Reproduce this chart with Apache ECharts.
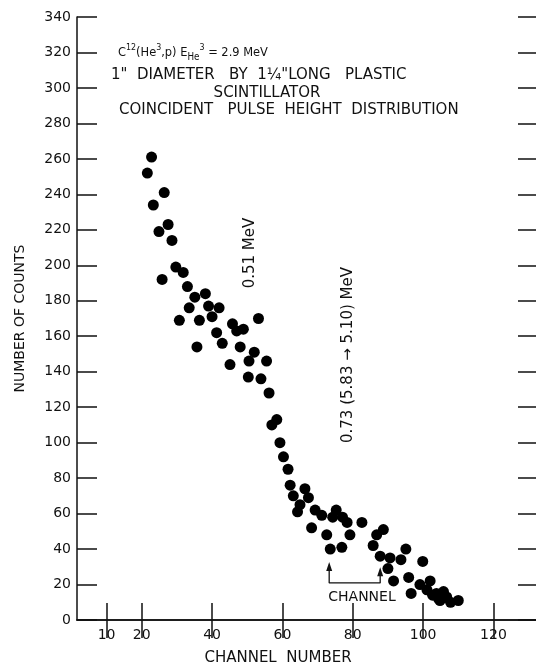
<!DOCTYPE html>
<html><head><meta charset="utf-8">
<script src="https://cdn.jsdelivr.net/npm/echarts@6/dist/echarts.min.js"></script>
<style>html,body{margin:0;padding:0;background:#fff}#c{width:536px;height:671px}</style>
</head><body><div id="c"></div>
<script>
// ---- data ----
const channels = [22.8,21.6,26.4,23.3,27.5,24.9,28.6,29.7,31.8,25.8,
  33.0,38.1,35.1,39.0,42.0,33.5,40.0,30.7,36.4,45.8,
  53.2,41.3,47.0,48.9,35.7,42.9,48.0,52.0,45.1,50.5,
  55.5,50.3,53.9,56.2,58.4,57.0,59.3,60.3,61.6,62.2,
  63.1,66.4,67.4,65.0,64.3,69.3,71.2,74.3,75.3,77.1,
  78.4,82.6,68.3,72.6,79.2,73.6,76.9,86.8,88.7,85.8,
  87.8,90.6,93.7,95.1,90.0,91.6,95.9,99.9,96.6,99.1,
  102.0,101.1,103.8,105.8,106.7,104.8,107.8,110.0,102.7,104.4];
const counts = [261,252,241,234,223,219,214,199,196,192,
  188,184,182,177,176,176,171,169,169,167,
  170,162,163,164,154,156,154,151,144,146,
  146,137,136,128,113,110,100,92,85,76,
  70,74,69,65,61,62,59,58,62,58,
  55,55,52,48,48,40,41,48,51,42,
  36,35,34,40,29,22,24,33,15,20,
  22,17,15,16,13,11,10,11,14,12];
const xTickValues = [10,20,40,60,80,100,120];
const xMin = 1.6, xMax = 132.1;
const yMin = 0, yMax = 340, yStep = 20;
const bracketChannels = [73.3,73.3,87.8,87.8];
const bracketCounts = [29,20.9,20.9,26];
const arrowChannels = [73.3,87.8];
const arrowCounts = [30.2,27.2];

// ---- chart ----
const ink = '#111';
const ff = 'DejaVu Sans';
const points = channels.map((c,i)=>[c,counts[i]]);
const bracket = bracketChannels.map((c,i)=>[c,bracketCounts[i]]);
const arrows = arrowChannels.map((c,i)=>[c,arrowCounts[i]]);

function txt(x,y,text,opt){
  opt = opt||{};
  return {type:'text', x:x, y:y, rotation:opt.rot||0, silent:true,
    style:Object.assign({text:text, fill:ink, font:(opt.size||15)+'px "'+ff+'"',
      textAlign:opt.align||'left', align:opt.align||'left',
      textVerticalAlign:'middle', verticalAlign:'middle'}, opt.extra||{})};
}

const chart = echarts.init(document.getElementById('c'), null, {renderer:'canvas'});
chart.setOption({
  animation:false,
  backgroundColor:'#fff',
  grid:{left:77, right:0, top:17, bottom:45},
  xAxis:[{
    type:'value', position:'bottom', min:xMin, max:xMax,
    axisLine:{show:true, lineStyle:{color:ink, width:1.5}},
    axisTick:{show:true, inside:true, length:17, customValues:xTickValues, lineStyle:{color:ink, width:1.5}},
    axisLabel:{customValues:xTickValues, color:ink, fontSize:14, fontFamily:ff, margin:8},
    splitLine:{show:false},
    name:'CHANNEL  NUMBER', nameLocation:'middle', nameGap:31,
    nameTextStyle:{color:ink, fontSize:15, fontFamily:ff, padding:[0,57,0,0]}
  },{
    type:'value', position:'top', min:xMin, max:xMax,
    axisLine:{show:true, lineStyle:{color:ink, width:1.5}},
    axisTick:{show:true, inside:true, length:18, customValues:xTickValues, lineStyle:{color:ink, width:1.5}},
    axisLabel:{show:false}, splitLine:{show:false}
  }],
  yAxis:[{
    type:'value', position:'left', min:yMin, max:yMax, interval:yStep,
    axisLine:{show:true, lineStyle:{color:ink, width:1.5}},
    axisTick:{show:true, inside:true, length:20, lineStyle:{color:ink, width:1.5}},
    axisLabel:{color:ink, fontSize:14, fontFamily:ff, margin:6},
    splitLine:{show:false},
    name:'NUMBER OF COUNTS', nameLocation:'middle', nameGap:50,
    nameTextStyle:{color:ink, fontSize:14, fontFamily:ff}
  },{
    type:'value', position:'right', min:yMin, max:yMax, interval:yStep,
    axisLine:{show:false},
    axisTick:{show:true, inside:true, length:18, lineStyle:{color:ink, width:1.5}},
    axisLabel:{show:false}, splitLine:{show:false}
  }],
  series:[{
    type:'scatter', data:points, symbol:'circle', symbolSize:11,
    itemStyle:{color:'#000', opacity:1}, z:5
  },{
    type:'line', data:bracket, symbol:'none',
    lineStyle:{color:ink, width:1.3}, z:4
  },{
    type:'scatter', data:arrows, symbol:'triangle', symbolSize:[6,9],
    itemStyle:{color:ink, opacity:1}, z:4
  }],
  graphic:[
    {type:'text', x:118, y:53, scaleX:0.88, silent:true, style:{
      text:'{n|C}{sup|12}{n|(He}{sup|3}{n|,p) E}{sub|He}{sup|3}{n| = 2.9 MeV}',
      fill:ink, font:'13px "'+ff+'"', textAlign:'left', align:'left',
      textVerticalAlign:'middle', verticalAlign:'middle',
      rich:{
        n:{fontSize:13, fontFamily:ff, fill:ink, lineHeight:19, verticalAlign:'middle'},
        sup:{fontSize:9, fontFamily:ff, fill:ink, lineHeight:10, verticalAlign:'top'},
        sub:{fontSize:10, fontFamily:ff, fill:ink, lineHeight:10, verticalAlign:'bottom'}
      }}},
    txt(111, 75, '1"  DIAMETER   BY  1\u00BC"LONG   PLASTIC'),
    txt(267, 93, 'SCINTILLATOR', {align:'center'}),
    txt(119, 110, 'COINCIDENT   PULSE  HEIGHT  DISTRIBUTION'),
    txt(250, 253, '0.51 MeV', {align:'center', rot:Math.PI/2}),
    txt(348, 355, '0.73 (5.83 \u2192 5.10) MeV', {align:'center', rot:Math.PI/2}),
    txt(362, 597, 'CHANNEL', {align:'center', size:14})
  ]
});
</script>
</body></html>
